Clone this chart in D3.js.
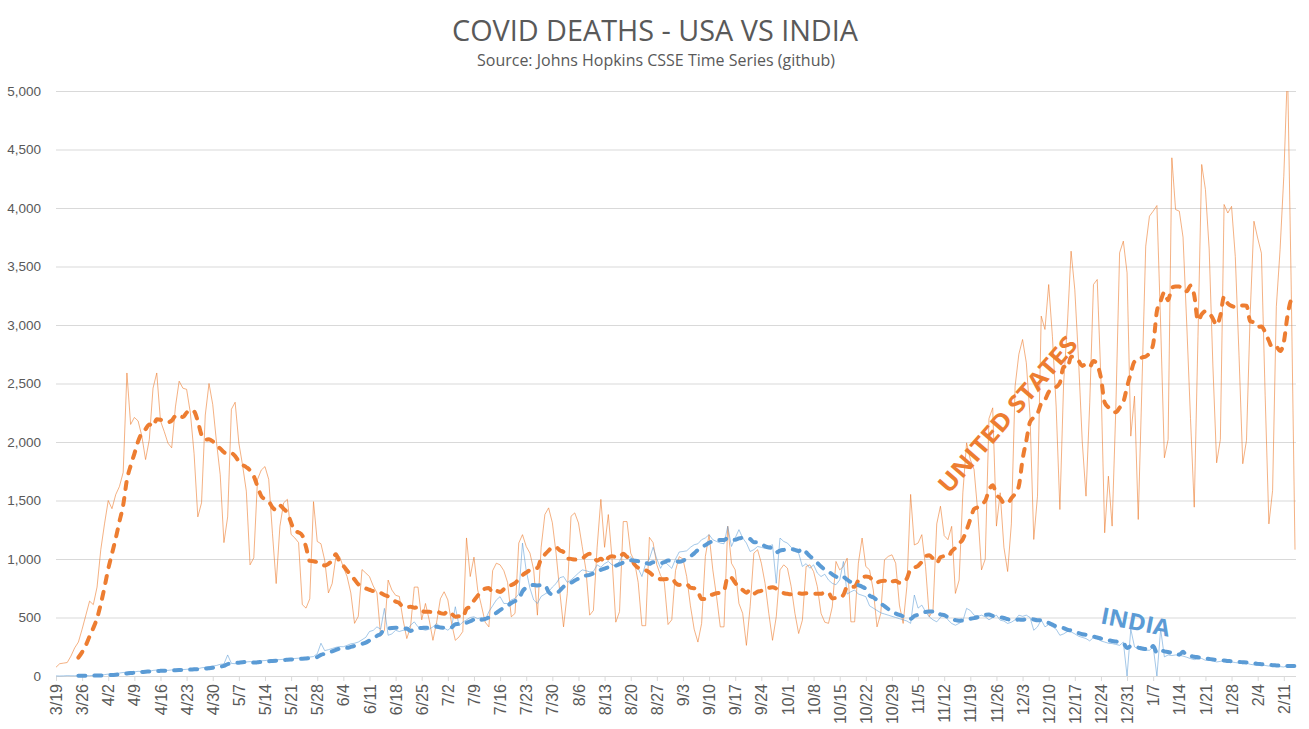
<!DOCTYPE html>
<html><head><meta charset="utf-8">
<script src="https://cdn.jsdelivr.net/npm/d3@7"></script>
<style>body{margin:0;background:#fff;} svg{display:block;}</style>
</head><body>
<svg id="chart" width="1309" height="729"></svg>
<script>
// ---------- DATA ----------
const startDate = "2020-03-19";   // first daily value, one value per day
const usDeaths = [
75,105,110,115,170,240,290,400,520,640,610,760,1080,1300,1500,1430,1550,1620,1740,2590,
2150,2210,2180,2050,1850,2020,2460,2590,2180,2090,1990,1950,2300,2520,2460,2450,2250,1900,1360,1480,
2230,2500,2320,2000,1720,1140,1360,2280,2340,1990,1800,1580,950,1010,1680,1760,1790,1680,1220,790,
1280,1480,1510,1210,1180,1140,610,580,660,1490,1150,1130,990,710,790,1020,1020,930,850,710,
450,510,910,880,850,770,710,340,390,820,735,690,680,480,320,420,760,760,480,620,
480,305,460,660,720,650,450,305,334,380,1180,850,1016,735,600,460,420,900,964,950,
900,800,506,535,1136,1208,1107,1050,907,520,1100,1380,1437,1310,1050,720,420,706,1365,1394,
1308,1107,907,520,560,1100,1510,1100,1380,1000,460,550,1320,1320,1050,980,800,430,430,1185,
1140,950,860,800,440,480,900,1020,1000,850,600,400,290,449,1022,1208,907,678,420,420,
1280,964,907,620,535,262,592,1050,1079,964,792,535,305,506,907,950,921,764,535,363,
477,936,950,893,764,535,460,450,590,979,907,936,1007,463,463,964,1179,936,907,735,
420,535,993,1022,1036,964,606,449,764,1552,1120,1136,1208,936,506,563,1300,1451,1200,1165,
1279,706,820,1566,1993,1850,1765,1400,907,1000,2200,2292,1281,1566,1100,893,1300,2477,2750,2876,
2677,2221,1167,1537,3076,2962,3346,2900,2300,1423,2500,3000,3631,3300,2700,2000,1537,2335,3346,3389,
2534,1224,1708,1281,2300,3617,3717,3446,2050,2392,1338,2500,3674,3930,3973,4021,3000,1865,2021,4429,
3987,3973,3750,3000,2200,1443,2900,4372,4158,3650,2650,1822,2021,4030,3957,4014,3586,2740,1814,2014,
3100,3887,3743,3614,2400,1300,1586,3157,3643,4271,5200,3300,1080
];
const indiaDeaths = [
1,0,1,3,2,2,3,4,3,3,5,6,8,12,16,14,20,25,30,32,
37,35,40,38,45,40,48,51,45,50,48,52,55,58,55,57,60,65,62,70,
74,80,85,90,100,103,180,108,105,110,115,120,123,120,125,130,132,137,135,140,
140,143,145,146,150,152,155,158,162,166,190,280,217,225,235,245,251,250,262,275,
280,290,310,330,380,390,420,400,578,348,360,391,380,391,391,434,463,420,400,391,
400,420,449,420,410,391,420,592,430,460,480,500,506,490,500,477,550,600,650,678,
620,620,650,663,700,1136,900,750,650,620,680,700,720,760,790,840,850,800,821,850,
880,907,900,890,893,950,930,960,979,950,940,980,1050,1000,1020,960,920,850,960,1000,
1100,1000,920,980,950,920,1000,1060,1064,1070,1100,1122,1130,1165,1180,1208,1165,1150,1136,1130,
1279,1107,1180,1251,1180,1136,1064,1080,1107,1100,1090,1110,1122,792,1179,1150,1136,1100,1070,1050,
936,960,921,950,880,850,870,820,792,780,821,979,700,720,735,700,690,678,600,580,
560,540,530,520,510,500,490,480,470,450,692,580,606,550,506,480,463,500,535,480,
449,434,450,470,578,560,520,510,520,506,480,500,520,477,470,449,460,480,520,510,
520,500,391,420,480,420,440,420,400,348,360,380,377,360,340,330,320,300,330,320,
300,290,280,277,270,262,290,0,400,249,230,220,220,220,249,0,400,163,180,175,
180,177,170,160,149,140,145,150,134,140,130,120,125,130,120,120,115,110,105,110,
100,95,91,95,90,85,91,85,80,77,90,85,91
];
const yTickValues = [0,500,1000,1500,2000,2500,3000,3500,4000,4500,5000];
const xTickLabels = ["3/19","3/26","4/2","4/9","4/16","4/23","4/30","5/7","5/14","5/21","5/28",
"6/4","6/11","6/18","6/25","7/2","7/9","7/16","7/23","7/30","8/6","8/13","8/20","8/27",
"9/3","9/10","9/17","9/24","10/1","10/8","10/15","10/22","10/29","11/5","11/12","11/19",
"11/26","12/3","12/10","12/17","12/24","12/31","1/7","1/14","1/21","1/28","2/4","2/11"];
const titleText = "COVID DEATHS - USA VS INDIA";
const subtitleText = "Source: Johns Hopkins CSSE Time Series (github)";
const seriesNames = ["UNITED STATES","INDIA"];
const maWindow = 7; // moving-average trendline period

// ---------- CHART ----------
const ORANGE = "#ED7D31", BLUE = "#5B9BD5", TXT = "#595959", GRID = "#D9D9D9";
const svg = d3.select("#chart");
const P = {left:56, right:1295, top:91, bottom:676};
const start = new Date(startDate + "T00:00:00Z");
const dates = usDeaths.map((_, i) => d3.utcDay.offset(start, i));
const x = d3.scaleUtc().domain([dates[0], dates[dates.length - 1]]).range([P.left, P.right]);
const y = d3.scaleLinear().domain([0, 5000]).range([P.bottom, P.top]);

svg.append("rect").attr("width",1309).attr("height",729).attr("fill","#fff");

// title
svg.append("text").attr("x",655).attr("y",41).attr("text-anchor","middle")
  .attr("font-family","'Open Sans', sans-serif").attr("font-weight",400).attr("font-size",30)
  .attr("fill",TXT).attr("textLength",406).attr("lengthAdjust","spacingAndGlyphs").text(titleText);
svg.append("text").attr("x",656).attr("y",66).attr("text-anchor","middle")
  .attr("font-family","'Open Sans', sans-serif").attr("font-size",15.5)
  .attr("fill",TXT).attr("textLength",358).attr("lengthAdjust","spacingAndGlyphs").text(subtitleText);

// gridlines + y labels
const yAxis = d3.axisLeft(y).tickValues(yTickValues).tickSize(-(P.right + 1 - P.left)).tickPadding(15)
  .tickFormat(d3.format(","));
const gy = svg.append("g").attr("transform",`translate(${P.left},0)`).call(yAxis);
gy.select(".domain").remove();
gy.selectAll(".tick line").attr("stroke",GRID).attr("stroke-width",1);
gy.selectAll(".tick text").attr("fill",TXT).attr("font-family","'Liberation Sans', Arial, sans-serif")
  .attr("font-size",13.5);

// x axis (weekly ticks)
const tickDates = xTickLabels.map((_, i) => d3.utcDay.offset(start, 7 * i));
const xAxis = d3.axisBottom(x).tickValues(tickDates).tickSize(5).tickPadding(8)
  .tickFormat((d, i) => xTickLabels[i]);
const gx = svg.append("g").attr("transform",`translate(0,${P.bottom})`).call(xAxis);
gx.select(".domain").attr("d",`M${P.left},0.5H${P.right+1}`).attr("stroke",GRID);
gx.selectAll(".tick line").attr("stroke",GRID);
gx.selectAll(".tick text").attr("fill",TXT).attr("font-family","'Liberation Sans', Arial, sans-serif")
  .attr("font-size",16).attr("text-anchor","end")
  .attr("transform","rotate(-90)").attr("x",-8).attr("y",0).attr("dy","0.35em");

// clip
svg.append("clipPath").attr("id","plotclip").append("rect")
  .attr("x",P.left-2).attr("y",P.top).attr("width",P.right-P.left+4).attr("height",P.bottom-P.top+2);
const plot = svg.append("g").attr("clip-path","url(#plotclip)");

const toPts = arr => arr.map((v, i) => ({date: dates[i], v}));
function movingAverage(arr, n) {
  const out = [];
  for (let i = n - 1; i < arr.length; i++) out.push({date: dates[i], v: d3.mean(arr.slice(i - n + 1, i + 1))});
  return out;
}
const line = d3.line().x(d => x(d.date)).y(d => y(d.v));
const smooth = d3.line().x(d => x(d.date)).y(d => y(d.v)).curve(d3.curveMonotoneX);

plot.append("path").datum(toPts(usDeaths)).attr("d",line).attr("fill","none")
  .attr("stroke",ORANGE).attr("stroke-opacity",0.6).attr("stroke-width",1);
plot.append("path").datum(toPts(indiaDeaths)).attr("d",line).attr("fill","none")
  .attr("stroke",BLUE).attr("stroke-opacity",0.55).attr("stroke-width",1);
plot.append("path").datum(movingAverage(usDeaths, maWindow)).attr("d",smooth).attr("fill","none")
  .attr("stroke",ORANGE).attr("stroke-width",4).attr("stroke-dasharray","7,9").attr("stroke-linecap","round");
plot.append("path").datum(movingAverage(indiaDeaths, maWindow)).attr("d",smooth).attr("fill","none")
  .attr("stroke",BLUE).attr("stroke-width",4).attr("stroke-dasharray","7,9").attr("stroke-linecap","round");

// series labels
svg.append("text").attr("transform","translate(1014,420) rotate(-49)").attr("text-anchor","middle")
  .attr("font-family","'Open Sans', sans-serif").attr("font-weight",700).attr("font-size",24)
  .attr("fill",ORANGE).attr("textLength",198).attr("lengthAdjust","spacingAndGlyphs").text(seriesNames[0]);
svg.append("text").attr("transform","translate(1134,630) rotate(11)").attr("text-anchor","middle")
  .attr("font-family","'Open Sans', sans-serif").attr("font-weight",700).attr("font-size",23)
  .attr("fill",BLUE).attr("textLength",70).attr("lengthAdjust","spacingAndGlyphs").text(seriesNames[1]);
</script>
</body></html>
